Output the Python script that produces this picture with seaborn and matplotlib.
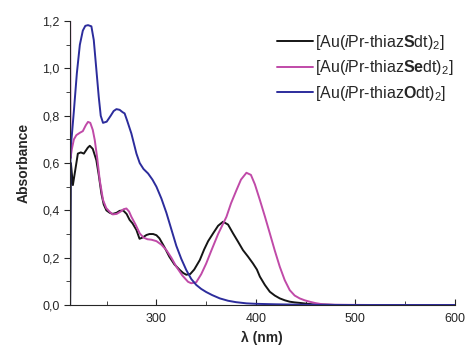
import numpy as np
import pandas as pd
import matplotlib
matplotlib.use('Agg')
import matplotlib.pyplot as plt
import seaborn as sns
from matplotlib.ticker import MultipleLocator, FuncFormatter

# Spectra (wavelength in nm, absorbance)
wl_s = [213.2, 214, 216, 218, 221, 224, 227, 231, 233, 236, 239.6, 242, 244.7, 247, 249.7, 253, 256,
        260, 263, 266.5, 270, 273, 276, 279.9, 283, 286, 290, 293, 296.7, 300, 303, 308, 313, 318,
        323.5, 327, 330, 334, 338, 343.6, 348, 352, 357, 362, 367, 372, 377, 382, 387, 392, 397,
        401, 404, 409, 414, 419, 424, 429, 434, 439, 444, 450, 457, 465, 480, 520, 560, 600]
abs_s = [0.0, 0.60, 0.507, 0.56, 0.64, 0.645, 0.64, 0.665, 0.673, 0.66, 0.612, 0.55, 0.47, 0.425, 0.40,
         0.39, 0.385, 0.39, 0.398, 0.40, 0.385, 0.36, 0.345, 0.317, 0.28, 0.285, 0.296, 0.30, 0.30,
         0.295, 0.282, 0.245, 0.204, 0.172, 0.148, 0.135, 0.128, 0.131, 0.15, 0.19, 0.235, 0.27,
         0.303, 0.335, 0.352, 0.34, 0.303, 0.268, 0.232, 0.205, 0.176, 0.15, 0.12, 0.085, 0.056,
         0.04, 0.028, 0.02, 0.014, 0.011, 0.009, 0.006, 0.003, 0.002, 0.0, 0.0, 0.0, 0.0]

wl_se = [213.2, 213.6, 215, 217, 219.5, 223, 226, 229, 231.2, 233.5, 236, 238, 240.5, 243, 246.3, 249.5,
         253, 256, 260, 264, 267, 269.8, 272.5, 274.8, 279, 283.2, 287, 291, 295, 300, 305, 310, 315,
         320, 326, 331.8, 335, 340, 345, 350, 355, 362, 370.4, 375, 380.5, 385, 390.5, 395, 399, 404,
         409, 414, 419, 424, 429, 434, 439, 444, 449, 454, 460, 467, 480, 520, 560, 600]
abs_se = [1.3, 0.62, 0.66, 0.70, 0.718, 0.728, 0.735, 0.76, 0.774, 0.77, 0.74, 0.697, 0.62, 0.528, 0.444,
          0.41, 0.394, 0.383, 0.385, 0.395, 0.405, 0.408, 0.395, 0.373, 0.34, 0.303, 0.285, 0.278,
          0.276, 0.27, 0.255, 0.232, 0.2, 0.162, 0.125, 0.098, 0.092, 0.096, 0.13, 0.175, 0.228, 0.30,
          0.373, 0.43, 0.486, 0.53, 0.559, 0.55, 0.51, 0.444, 0.375, 0.303, 0.23, 0.162, 0.105, 0.063,
          0.04, 0.028, 0.02, 0.014, 0.008, 0.003, 0.001, 0.0, 0.0, 0.0]

wl_o = [213.2, 213.6, 215, 217, 220, 223, 226, 228.5, 231.2, 234.6, 237, 239.5, 242, 244, 246.3, 250,
        254, 257, 259.8, 263, 266, 268, 270.5, 274.8, 279.9, 283.2, 287, 291.6, 296, 300, 305, 310,
        315, 320, 325, 330, 335, 340, 345, 350, 356, 363.7, 372, 380, 390.5, 400, 420, 450, 500, 550, 600]
abs_o = [0.0, 0.66, 0.72, 0.82, 0.98, 1.10, 1.16, 1.18, 1.183, 1.178, 1.12, 1.0, 0.88, 0.80, 0.77, 0.775,
         0.80, 0.82, 0.828, 0.825, 0.815, 0.81, 0.78, 0.725, 0.64, 0.60, 0.575, 0.556, 0.53, 0.50, 0.45,
         0.39, 0.32, 0.25, 0.195, 0.148, 0.11, 0.085, 0.068, 0.055, 0.042, 0.028, 0.018, 0.012,
         0.007, 0.005, 0.003, 0.001, 0.0, 0.0, 0.0]

labels = ['[Au($\\mathit{i}$Pr-thiaz$\\mathbf{S}$dt)$_2$]',
          '[Au($\\mathit{i}$Pr-thiaz$\\mathbf{Se}$dt)$_2$]',
          '[Au($\\mathit{i}$Pr-thiaz$\\mathbf{O}$dt)$_2$]']
colors = ['#151515', '#c04aa8', '#2c2c9c']

df = pd.concat([
    pd.DataFrame({'wl': wl_s, 'A': abs_s, 'cmp': labels[0]}),
    pd.DataFrame({'wl': wl_se, 'A': abs_se, 'cmp': labels[1]}),
    pd.DataFrame({'wl': wl_o, 'A': abs_o, 'cmp': labels[2]}),
])

sns.set_style('ticks')
plt.rcParams['font.family'] = ['Liberation Sans', 'DejaVu Sans']
plt.rcParams['mathtext.fontset'] = 'custom'
plt.rcParams['mathtext.rm'] = 'Liberation Sans'
plt.rcParams['mathtext.it'] = 'Liberation Sans:italic'
plt.rcParams['mathtext.bf'] = 'Liberation Sans:bold'

fig = plt.figure(figsize=(4.66, 3.52), dpi=100)
ax = fig.add_axes([0.150, 0.1335, 0.826, 0.8065])
sns.lineplot(data=df, x='wl', y='A', hue='cmp', palette=colors, sort=False,
             estimator=None, linewidth=1.4, ax=ax)

ax.set_xlim(213, 600)
ax.set_ylim(0, 1.2)
ax.xaxis.set_major_locator(MultipleLocator(100))
ax.xaxis.set_minor_locator(MultipleLocator(50))
ax.yaxis.set_major_locator(MultipleLocator(0.2))
ax.yaxis.set_minor_locator(MultipleLocator(0.1))
ax.yaxis.set_major_formatter(FuncFormatter(lambda v, p: f'{v:.1f}'.replace('.', ',')))
ax.tick_params(axis='x', which='both', direction='in', labelsize=9, pad=6)
ax.tick_params(axis='y', which='both', direction='out', labelsize=9)
ax.tick_params(which='major', length=4)
ax.tick_params(which='minor', length=3)
sns.despine(ax=ax)

ax.set_xlabel('λ (nm)', fontsize=10, fontweight='bold')
ax.set_ylabel('Absorbance', fontsize=10, fontweight='bold', labelpad=8)

leg = ax.legend(title=None, loc='upper right', frameon=False, fontsize=11.5,
                handlelength=2.25, handletextpad=0.15, labelspacing=0.42,
                bbox_to_anchor=(1.035, 1.01))

fig.savefig('out.png', dpi=100)
